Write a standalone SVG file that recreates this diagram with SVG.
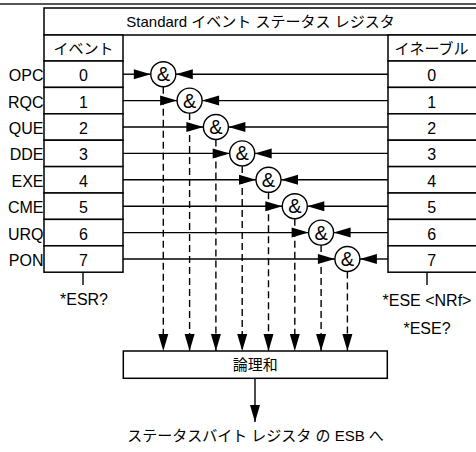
<svg xmlns="http://www.w3.org/2000/svg" width="476" height="452" viewBox="0 0 476 452">
<defs>
<marker id="ah" markerUnits="userSpaceOnUse" markerWidth="18" markerHeight="11" refX="17" refY="5" orient="auto" overflow="visible">
<path d="M0,0 L17,5 L0,10 z" fill="#000"/>
</marker>
<style>
text{font-family:"Liberation Sans","Noto Sans CJK JP",sans-serif;font-size:15px;fill:#000}
.c{text-anchor:middle}
.r{text-anchor:end}
.l{font-size:16px}
.box{fill:#fff;stroke:#000;stroke-width:1.5}
.ln{stroke:#000;stroke-width:1.4;fill:none}
.arr{stroke:#000;stroke-width:1.4;fill:none;marker-end:url(#ah)}
.dash{stroke:#000;stroke-width:1.4;fill:none;stroke-dasharray:7,4;marker-end:url(#ah)}
.gate{fill:#fff;stroke:#000;stroke-width:1.4}
.amp{font-size:20px;text-anchor:middle}
</style>
</defs>
<line x1="0" y1="4" x2="476" y2="4" stroke="#555" stroke-width="2"/>

<g id="register">
<rect class="box" x="44" y="8" width="434" height="27"/>
<text class="c" x="260.5" y="27">Standard イベント ステータス レジスタ</text>
</g>

<g id="connectors">
<line class="arr" x1="123" y1="74.2" x2="150.8" y2="74.2"/>
<line class="arr" x1="123" y1="100.6" x2="177.1" y2="100.6"/>
<line class="arr" x1="123" y1="127" x2="203.4" y2="127"/>
<line class="arr" x1="123" y1="153.4" x2="229.7" y2="153.4"/>
<line class="arr" x1="123" y1="179.8" x2="256" y2="179.8"/>
<line class="arr" x1="123" y1="206.2" x2="282.3" y2="206.2"/>
<line class="arr" x1="123" y1="232.6" x2="308.6" y2="232.6"/>
<line class="arr" x1="123" y1="259" x2="334.9" y2="259"/>

<line class="arr" x1="388" y1="74.2" x2="175.8" y2="74.2"/>
<line class="arr" x1="388" y1="100.6" x2="202.1" y2="100.6"/>
<line class="arr" x1="388" y1="127" x2="228.4" y2="127"/>
<line class="arr" x1="388" y1="153.4" x2="254.7" y2="153.4"/>
<line class="arr" x1="388" y1="179.8" x2="281" y2="179.8"/>
<line class="arr" x1="388" y1="206.2" x2="307.3" y2="206.2"/>
<line class="arr" x1="388" y1="232.6" x2="333.6" y2="232.6"/>
<line class="arr" x1="388" y1="259" x2="359.9" y2="259"/>

<line class="dash" x1="163.3" y1="86.7" x2="163.3" y2="351"/>
<line class="dash" x1="189.6" y1="113.1" x2="189.6" y2="351"/>
<line class="dash" x1="215.9" y1="139.5" x2="215.9" y2="351"/>
<line class="dash" x1="242.2" y1="165.9" x2="242.2" y2="351"/>
<line class="dash" x1="268.5" y1="192.3" x2="268.5" y2="351"/>
<line class="dash" x1="294.8" y1="218.7" x2="294.8" y2="351"/>
<line class="dash" x1="321.1" y1="245.1" x2="321.1" y2="351"/>
<line class="dash" x1="347.4" y1="271.5" x2="347.4" y2="351"/>

<line class="ln" x1="83" y1="272.2" x2="83" y2="285"/>
<line class="ln" x1="427" y1="272.2" x2="427" y2="285"/>
<line class="arr" x1="255" y1="378.3" x2="255" y2="422"/>
</g>

<g id="event-column">
<rect class="box" x="44" y="35" width="79" height="26"/>
<text class="c" x="83.5" y="53.5">イベント</text>
<rect class="box" x="44" y="61" width="79" height="26.4"/>
<rect class="box" x="44" y="87.4" width="79" height="26.4"/>
<rect class="box" x="44" y="113.8" width="79" height="26.4"/>
<rect class="box" x="44" y="140.2" width="79" height="26.4"/>
<rect class="box" x="44" y="166.6" width="79" height="26.4"/>
<rect class="box" x="44" y="193" width="79" height="26.4"/>
<rect class="box" x="44" y="219.4" width="79" height="26.4"/>
<rect class="box" x="44" y="245.8" width="79" height="26.4"/>
<text class="c l" x="83.5" y="81.2">0</text>
<text class="c l" x="83.5" y="107.6">1</text>
<text class="c l" x="83.5" y="134">2</text>
<text class="c l" x="83.5" y="160.4">3</text>
<text class="c l" x="83.5" y="186.8">4</text>
<text class="c l" x="83.5" y="213.2">5</text>
<text class="c l" x="83.5" y="239.6">6</text>
<text class="c l" x="83.5" y="266">7</text>
<text class="r l" x="43.5" y="81.2">OPC</text>
<text class="r l" x="43.5" y="107.6">RQC</text>
<text class="r l" x="43.5" y="134">QUE</text>
<text class="r l" x="43.5" y="160.4">DDE</text>
<text class="r l" x="43.5" y="186.8">EXE</text>
<text class="r l" x="43.5" y="213.2">CME</text>
<text class="r l" x="43.5" y="239.6">URQ</text>
<text class="r l" x="43.5" y="266">PON</text>
<text class="c l" x="84" y="305">*ESR?</text>
</g>

<g id="enable-column">
<rect class="box" x="388" y="35" width="90" height="26"/>
<text class="c" x="431.5" y="53.5">イネーブル</text>
<rect class="box" x="388" y="61" width="90" height="26.4"/>
<rect class="box" x="388" y="87.4" width="90" height="26.4"/>
<rect class="box" x="388" y="113.8" width="90" height="26.4"/>
<rect class="box" x="388" y="140.2" width="90" height="26.4"/>
<rect class="box" x="388" y="166.6" width="90" height="26.4"/>
<rect class="box" x="388" y="193" width="90" height="26.4"/>
<rect class="box" x="388" y="219.4" width="90" height="26.4"/>
<rect class="box" x="388" y="245.8" width="90" height="26.4"/>
<text class="c l" x="431.7" y="81.2">0</text>
<text class="c l" x="431.7" y="107.6">1</text>
<text class="c l" x="431.7" y="134">2</text>
<text class="c l" x="431.7" y="160.4">3</text>
<text class="c l" x="431.7" y="186.8">4</text>
<text class="c l" x="431.7" y="213.2">5</text>
<text class="c l" x="431.7" y="239.6">6</text>
<text class="c l" x="431.7" y="266">7</text>
<text class="c l" x="427" y="306">*ESE &lt;NRf&gt;</text>
<text class="c l" x="427" y="333.5">*ESE?</text>
</g>

<g id="gate0"><circle class="gate" cx="163.3" cy="74.2" r="12.5"/><text class="amp" x="163.3" y="81.2">&amp;</text></g>
<g id="gate1"><circle class="gate" cx="189.6" cy="100.6" r="12.5"/><text class="amp" x="189.6" y="107.6">&amp;</text></g>
<g id="gate2"><circle class="gate" cx="215.9" cy="127" r="12.5"/><text class="amp" x="215.9" y="134">&amp;</text></g>
<g id="gate3"><circle class="gate" cx="242.2" cy="153.4" r="12.5"/><text class="amp" x="242.2" y="160.4">&amp;</text></g>
<g id="gate4"><circle class="gate" cx="268.5" cy="179.8" r="12.5"/><text class="amp" x="268.5" y="186.8">&amp;</text></g>
<g id="gate5"><circle class="gate" cx="294.8" cy="206.2" r="12.5"/><text class="amp" x="294.8" y="213.2">&amp;</text></g>
<g id="gate6"><circle class="gate" cx="321.1" cy="232.6" r="12.5"/><text class="amp" x="321.1" y="239.6">&amp;</text></g>
<g id="gate7"><circle class="gate" cx="347.4" cy="259" r="12.5"/><text class="amp" x="347.4" y="266">&amp;</text></g>

<g id="or-box">
<rect class="box" x="123.3" y="351" width="264" height="27.3"/>
<text class="c" x="255.3" y="370">論理和</text>
</g>

<g id="output">
<text class="c" x="255.5" y="441">ステータスバイト レジスタ の ESB へ</text>
</g>
</svg>
